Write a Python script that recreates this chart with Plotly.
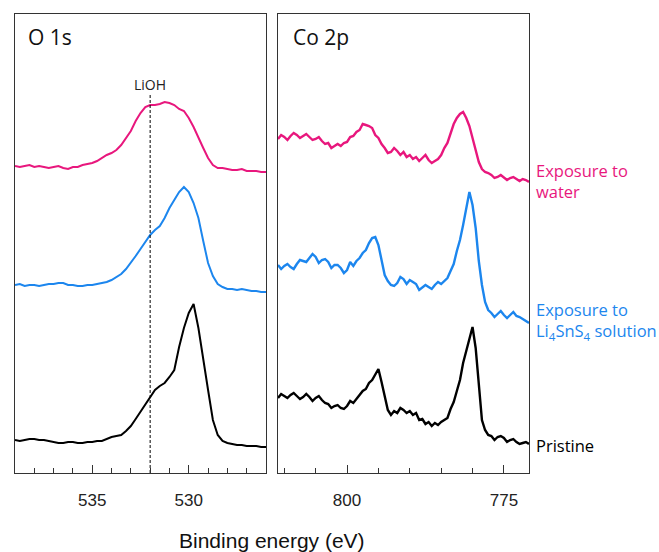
import plotly.graph_objects as go

# ---------------- data ----------------
# O 1s binding energies (eV)
o_energy = [539, 538.75, 538.5, 538.25, 538, 537.75, 537.5, 537.25, 537, 536.75, 536.5, 536.25,
            536, 535.75, 535.5, 535.25, 535, 534.75, 534.5, 534.25, 534, 533.75, 533.5, 533.25,
            533, 532.75, 532.5, 532.25, 532, 531.75, 531.5, 531.25, 531, 530.75, 530.5, 530.25,
            530, 529.75, 529.5, 529.25, 529, 528.75, 528.5, 528.25, 528, 527.75, 527.5, 527.25,
            527, 526.75, 526.5, 526.25, 526]
# intensities (arb. units, stacked offsets included)
o_water = [307, 306, 307, 308, 306, 307, 306, 305, 306, 307, 305, 304,
           306, 306, 308, 309, 310, 312, 315, 318, 320, 323, 328, 335,
           342, 352, 360, 366, 368, 368, 369, 371, 370, 368, 364, 362,
           355, 346, 335, 325, 315, 308, 305, 305, 304, 303, 303, 304,
           302, 302, 302, 301, 301]
o_li4sns4 = [188, 189, 187, 188, 188, 187, 188, 189, 189, 190, 190, 188,
             188, 187, 187, 188, 188, 189, 190, 191, 193, 196, 199, 204,
             210, 217, 224, 231, 238, 243, 247, 255, 265, 273, 281, 286,
             281, 270, 255, 232, 210, 197, 189, 186, 184, 184, 183, 184,
             183, 182, 182, 181, 181]
o_pristine = [33, 32, 33, 34, 34, 33, 33, 32, 31, 30, 30, 31,
              31, 30, 30, 31, 31, 32, 32, 34, 36, 37, 38, 42,
              47, 54, 61, 68, 76, 83, 87, 90, 96, 103, 126, 145,
              160, 169, 145, 116, 83, 53, 38, 32, 30, 29, 28, 28,
              27, 27, 27, 26, 26]

# Co 2p binding energies (eV)
co_energy = [811, 810.5, 810, 809.5, 809, 808.5, 808, 807.5, 807, 806.5, 806, 805.5,
             805, 804.5, 804, 803.5, 803, 802.5, 802, 801.5, 801, 800.5, 800, 799.5,
             799, 798.5, 798, 797.5, 797, 796.5, 796, 795.5, 795, 794.5, 794, 793.5,
             793, 792.5, 792, 791.5, 791, 790.5, 790, 789.5, 789, 788.5, 788, 787.5,
             787, 786.5, 786, 785.5, 785, 784.5, 784, 783.5, 783, 782.5, 782, 781.5,
             781, 780.5, 780, 779.5, 779, 778.5, 778, 777.5, 777, 776.5, 776, 775.5,
             775, 774.5, 774, 773.5, 773, 772.5, 772, 771.5, 771]
co_water = [334, 338, 336, 333, 337, 340, 338, 335, 337, 339, 336, 333,
            334, 336, 332, 329, 330, 325, 327, 329, 327, 330, 331, 336,
            337, 341, 343, 349, 348, 347, 345, 338, 335, 329, 325, 320,
            321, 325, 322, 318, 321, 316, 318, 314, 316, 312, 315, 318,
            313, 310, 312, 314, 318, 325, 330, 340, 349, 355, 359, 361,
            355, 347, 335, 322, 311, 304, 301, 300, 298, 295, 296, 298,
            295, 293, 295, 296, 294, 292, 294, 293, 291]
co_li4sns4 = [208, 204, 207, 209, 206, 204, 209, 213, 212, 211, 215, 219,
              216, 210, 213, 214, 211, 205, 208, 208, 205, 200, 203, 211,
              207, 212, 215, 220, 223, 230, 235, 236, 228, 212, 198, 192,
              188, 187, 190, 196, 194, 189, 193, 191, 189, 183, 186, 188,
              186, 184, 188, 191, 189, 192, 195, 202, 209, 222, 233, 248,
              263, 281, 268, 245, 212, 188, 171, 163, 160, 156, 159, 162,
              158, 155, 158, 161, 157, 156, 154, 152, 150]
co_pristine = [75, 79, 77, 75, 78, 80, 77, 74, 76, 79, 76, 72,
               75, 77, 73, 70, 69, 65, 67, 68, 65, 64, 67, 72,
               70, 74, 77, 82, 84, 90, 93, 99, 104, 91, 76, 63,
               58, 62, 60, 65, 63, 60, 62, 58, 60, 53, 54, 49,
               51, 47, 50, 48, 51, 53, 55, 64, 71, 82, 93, 110,
               122, 135, 146, 125, 90, 53, 43, 38, 37, 33, 36, 37,
               35, 31, 33, 34, 31, 29, 30, 31, 29]

lioh_energy = [532, 532]
lioh_span = [0, 378]

series_names = ["Exposure to water", "Exposure to Li4SnS4 solution", "Pristine"]

for arr in (o_water, o_li4sns4, o_pristine):
    assert len(arr) == len(o_energy), len(arr)
for arr in (co_water, co_li4sns4, co_pristine):
    assert len(arr) == len(co_energy), len(arr)

# ---------------- styles ----------------
PINK = "#E8177D"
BLUE = "#1C86EE"
BLACK = "#000000"
AXC = "#333333"

fig = go.Figure()

for name, ys, col in zip(series_names, [o_water, o_li4sns4, o_pristine], [PINK, BLUE, BLACK]):
    fig.add_trace(go.Scatter(x=o_energy, y=ys, mode="lines", name=name,
                             line=dict(color=col, width=2), xaxis="x", yaxis="y",
                             showlegend=False))
for name, ys, col in zip(series_names, [co_water, co_li4sns4, co_pristine], [PINK, BLUE, BLACK]):
    fig.add_trace(go.Scatter(x=co_energy, y=ys, mode="lines", name=name,
                             line=dict(color=col, width=2.4), xaxis="x2", yaxis="y2",
                             showlegend=False))

fig.add_trace(go.Scatter(x=lioh_energy, y=lioh_span, mode="lines",
                         line=dict(color=BLACK, width=1, dash="3px,2px"),
                         xaxis="x", yaxis="y", showlegend=False))

tickfont = dict(family="Liberation Sans, Arial", size=17, color="#222222")
common_x = dict(showgrid=False, zeroline=False, showline=True, mirror=True,
                linecolor=AXC, linewidth=1, ticks="inside", ticklen=8, tickwidth=1,
                tickcolor=AXC, tickfont=tickfont, ticklabelstandoff=12)
common_y = dict(showgrid=False, zeroline=False, showline=True, mirror=True,
                linecolor=AXC, linewidth=1, showticklabels=False, ticks="",
                range=[0, 459])

fig.update_layout(
    width=659, height=552,
    margin=dict(l=15, r=130, t=14, b=79),
    paper_bgcolor="white", plot_bgcolor="white",
    xaxis=dict(domain=[0, 0.4883], range=[539, 526], tickmode="linear", tick0=530, dtick=5,
               minor=dict(ticks="inside", ticklen=5, tickwidth=1, tickcolor=AXC,
                          tickmode="linear", tick0=530, dtick=1),
               **common_x),
    xaxis2=dict(domain=[0.5117, 1], range=[811, 771], tickmode="linear", tick0=800, dtick=25,
                minor=dict(ticks="inside", ticklen=5, tickwidth=1, tickcolor=AXC,
                           tickmode="linear", tick0=800, dtick=5),
                **common_x),
    yaxis=dict(anchor="x", **common_y),
    yaxis2=dict(anchor="x2", **common_y),
)

lab_font = "Open Sans"
annotations = [
    dict(text="O 1s", xref="paper", yref="paper", x=0.0214, y=0.95, xanchor="left",
         yanchor="middle", showarrow=False, font=dict(family=lab_font, size=21, color="#111")),
    dict(text="Co 2p", xref="paper", yref="paper", x=0.537, y=0.95, xanchor="left",
         yanchor="middle", showarrow=False, font=dict(family=lab_font, size=21, color="#111")),
    dict(text="LiOH", xref="x", yref="y", x=532, y=389, xanchor="center", yanchor="middle",
         showarrow=False, font=dict(family=lab_font, size=14, color="#222")),
    dict(text="Exposure to<br>water", xref="paper", yref="paper", x=1.0097, y=0.636,
         xanchor="left", yanchor="middle", align="left", showarrow=False,
         font=dict(family=lab_font, size=16.5, color=PINK)),
    dict(text="Exposure to<br>Li<sub>4</sub>SnS<sub>4</sub> solution", xref="paper", yref="paper",
         x=1.0097, y=0.331, xanchor="left", yanchor="middle", align="left", showarrow=False,
         font=dict(family=lab_font, size=16.5, color=BLUE)),
    dict(text="Pristine", xref="paper", yref="paper", x=1.0097, y=0.059,
         xanchor="left", yanchor="middle", align="left", showarrow=False,
         font=dict(family=lab_font, size=16.5, color=BLACK)),
    dict(text="Binding energy (eV)", xref="paper", yref="paper", x=0.5, y=-0.146,
         xanchor="center", yanchor="middle", showarrow=False,
         font=dict(family="Liberation Sans, Arial", size=21, color="#111")),
]
fig.update_layout(annotations=annotations)

fig.write_html("out.html")
